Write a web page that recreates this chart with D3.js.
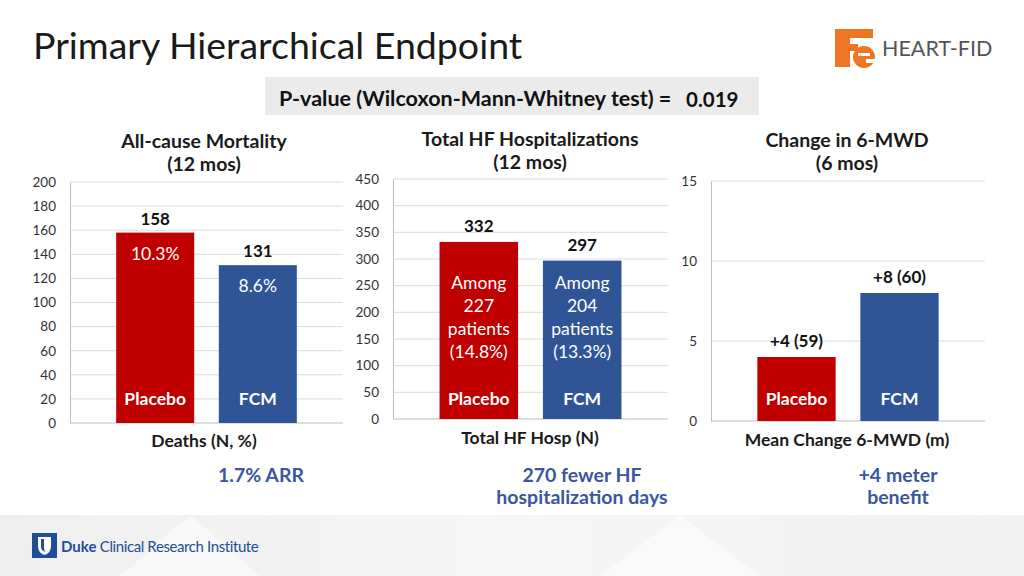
<!DOCTYPE html>
<html>
<head>
<meta charset="utf-8">
<script src="https://cdn.jsdelivr.net/npm/d3@7"></script>
<style>
  body { margin: 0; background: #fff; }
  svg { display: block; font-family: Lato, "Noto Sans", sans-serif; }
</style>
</head>
<body>
<div id="slide"></div>
<script>
// data
var groups = ["Placebo", "FCM"];
var deaths = [158, 131];
var deathPct = ["10.3%", "8.6%"];
var hosp = [332, 297];
var hospPatients = ["227", "204"];
var hospPct = ["(14.8%)", "(13.3%)"];
var mwd = [4, 8];
var mwdN = [59, 60];
var deathTicks = [0, 20, 40, 60, 80, 100, 120, 140, 160, 180, 200];
var hospTicks = [0, 50, 100, 150, 200, 250, 300, 350, 400, 450];
var mwdTicks = [0, 5, 10, 15];

var red = "#c00000", blue = "#2f5597", noteBlue = "#3a56a0";

var svg = d3.select("#slide").append("svg")
  .attr("width", 1024)
  .attr("height", 576);

// bottom band
var grad = svg.append("defs").append("linearGradient")
  .attr("id", "band").attr("x1", 0).attr("x2", 1).attr("y1", 0).attr("y2", 0);
grad.append("stop").attr("offset", "0%").attr("stop-color", "#efefef");
grad.append("stop").attr("offset", "50%").attr("stop-color", "#f6f6f6");
grad.append("stop").attr("offset", "100%").attr("stop-color", "#f1f1f1");
svg.append("rect").attr("x", 0).attr("y", 515).attr("width", 1024).attr("height", 61)
  .attr("fill", "url(#band)");
svg.append("path").attr("d", "M120,576 L190,515 L260,576 Z").attr("fill", "#f8f8f8");
svg.append("path").attr("d", "M600,576 L680,515 L760,576 Z").attr("fill", "#f9f9f9");

// title
svg.append("text")
  .attr("x", 33).attr("y", 59)
  .attr("font-size", 37.5)
  .attr("fill", "#1a1a1a")
  .text("Primary Hierarchical Endpoint");

// p-value box
svg.append("rect").attr("x", 265).attr("y", 77).attr("width", 494).attr("height", 38)
  .attr("fill", "#ebebeb");
svg.append("text").attr("x", 279).attr("y", 106)
  .attr("font-size", 21.5).attr("font-weight", "bold").attr("fill", "#111")
  .text("P-value (Wilcoxon-Mann-Whitney test) =");
svg.append("text").attr("x", 686).attr("y", 107)
  .attr("font-size", 20.5).attr("font-weight", "bold").attr("fill", "#111")
  .text("0.019");

// HEART-FID logo
var logo = svg.append("g");
logo.append("rect").attr("x", 835).attr("y", 29).attr("width", 38).attr("height", 9).attr("fill", "#ee7623");
logo.append("rect").attr("x", 835).attr("y", 29).attr("width", 15).attr("height", 38).attr("fill", "#ee7623");
logo.append("rect").attr("x", 850).attr("y", 44).attr("width", 8).attr("height", 7).attr("fill", "#ee7623");
logo.append("circle").attr("cx", 864).attr("cy", 57).attr("r", 11).attr("fill", "#ee7623");
logo.append("rect").attr("x", 858).attr("y", 53).attr("width", 12).attr("height", 3).attr("fill", "#fff");
logo.append("rect").attr("x", 866).attr("y", 59).attr("width", 10).attr("height", 4).attr("fill", "#fff");
logo.append("text").attr("x", 882).attr("y", 56)
  .attr("font-size", 21.5).attr("fill", "#555")
  .text("HEART-FID");

// Duke logo
var duke = svg.append("g");
duke.append("rect").attr("x", 32).attr("y", 533).attr("width", 25).attr("height", 25).attr("fill", "#1f4e96");
duke.append("path").attr("d", "M38,537 L51,537 L51,546 Q51,553 44.5,555 Q38,553 38,546 Z").attr("fill", "#fff");
duke.append("path").attr("d", "M41,539 L44,539 L44,548 Q44,551 46,552 Q41,551 41,547 Z").attr("fill", "#1f4e96");
var dukeText = duke.append("text").attr("x", 61).attr("y", 552).attr("font-size", 15).attr("fill", "#1f4e96");
dukeText.append("tspan").attr("font-weight", "bold").text("Duke");
dukeText.append("tspan").attr("letter-spacing", -0.4).text(" Clinical Research Institute");

// one bar panel
function panel(opt) {
  var y = d3.scaleLinear().domain(opt.domain).range([opt.bottom, opt.top]);
  var x = d3.scaleBand().domain(groups).range([opt.left, opt.right])
    .paddingInner(0.24).paddingOuter(0.45);

  var g = svg.append("g");

  g.selectAll(".grid").data(opt.ticks.slice(1)).enter().append("line")
    .attr("x1", opt.left).attr("x2", opt.right)
    .attr("y1", function(d) { return y(d); }).attr("y2", function(d) { return y(d); })
    .attr("stroke", "#dcdcdc").attr("stroke-width", 1);

  var axis = g.append("g")
    .attr("transform", "translate(" + opt.left + ",0)")
    .call(d3.axisLeft(y).tickValues(opt.ticks).tickSize(0).tickPadding(opt.pad));
  axis.select(".domain").attr("stroke", "#bfbfbf");
  axis.selectAll("text").attr("font-size", 13.5).attr("fill", "#333")
    .attr("font-family", "Lato, 'Noto Sans', sans-serif");

  g.append("line").attr("x1", opt.left).attr("x2", opt.right)
    .attr("y1", opt.bottom).attr("y2", opt.bottom)
    .attr("stroke", "#bfbfbf");

  g.selectAll(".bar").data(opt.values).enter().append("rect")
    .attr("x", function(d, i) { return x(groups[i]); })
    .attr("y", function(d) { return y(d); })
    .attr("width", x.bandwidth())
    .attr("height", function(d) { return opt.bottom - y(d); })
    .attr("fill", function(d, i) { return i == 0 ? red : blue; });

  g.selectAll(".val").data(opt.values).enter().append("text")
    .attr("x", function(d, i) { return x(groups[i]) + x.bandwidth() / 2; })
    .attr("y", function(d) { return y(d) - opt.valGap; })
    .attr("text-anchor", "middle")
    .attr("font-size", 17).attr("font-weight", "bold").attr("fill", "#111")
    .text(function(d, i) { return opt.valText(d, i); });

  g.selectAll(".grp").data(groups).enter().append("text")
    .attr("x", function(d) { return x(d) + x.bandwidth() / 2; })
    .attr("y", 405)
    .attr("text-anchor", "middle")
    .attr("font-size", 17.5).attr("font-weight", "bold").attr("fill", "#fff")
    .text(function(d) { return d; });

  // chart heading
  opt.title.forEach(function(t, i) {
    svg.append("text").attr("x", opt.cx).attr("y", opt.titleY + i * 23)
      .attr("text-anchor", "middle").attr("font-size", 19.5).attr("font-weight", "bold").attr("fill", "#1a1a1a")
      .text(t);
  });
  svg.append("text").attr("x", opt.cx).attr("y", opt.xTitleY)
    .attr("text-anchor", "middle").attr("font-size", 17.5).attr("font-weight", "bold").attr("fill", "#1a1a1a")
    .text(opt.xTitle);
  opt.note.forEach(function(t, i) {
    svg.append("text").attr("x", opt.noteX).attr("y", 482 + i * 22)
      .attr("text-anchor", "middle").attr("font-size", 19.5).attr("font-weight", "bold").attr("fill", noteBlue)
      .text(t);
  });

  return { g: g, x: x, y: y };
}

var p1 = panel({
  left: 70, right: 343, top: 182, bottom: 423, pad: 14,
  domain: [0, 200], ticks: deathTicks, values: deaths, valGap: 8,
  valText: function(d) { return d; },
  cx: 204, titleY: 148, title: ["All-cause Mortality", "(12 mos)"],
  xTitle: "Deaths (N, %)", xTitleY: 447, noteX: 261, note: ["1.7% ARR"]
});
p1.g.selectAll(".pct").data(deathPct).enter().append("text")
  .attr("x", function(d, i) { return p1.x(groups[i]) + p1.x.bandwidth() / 2; })
  .attr("y", function(d, i) { return p1.y(deaths[i]) + 27; })
  .attr("text-anchor", "middle").attr("font-size", 17.5).attr("fill", "#fff")
  .text(function(d) { return d; });

var p2 = panel({
  left: 393, right: 668, top: 179, bottom: 419, pad: 14,
  domain: [0, 450], ticks: hospTicks, values: hosp, valGap: 10,
  valText: function(d) { return d; },
  cx: 530, titleY: 146, title: ["Total HF Hospitalizations", "(12 mos)"],
  xTitle: "Total HF Hosp (N)", xTitleY: 444, noteX: 582, note: ["270 fewer HF", "hospitalization days"]
});
groups.forEach(function(gname, i) {
  var lines = ["Among", hospPatients[i], "patients", hospPct[i]];
  p2.g.selectAll(".among" + i).data(lines).enter().append("text")
    .attr("x", p2.x(gname) + p2.x.bandwidth() / 2)
    .attr("y", function(d, j) { return 289 + j * 23; })
    .attr("text-anchor", "middle").attr("font-size", 17.5).attr("fill", "#fff")
    .text(function(d) { return d; });
});

panel({
  left: 711, right: 985, top: 181, bottom: 421, pad: 14,
  domain: [0, 15], ticks: mwdTicks, values: mwd, valGap: 10,
  valText: function(d, i) { return "+" + d + " (" + mwdN[i] + ")"; },
  cx: 847, titleY: 147, title: ["Change in 6-MWD", "(6 mos)"],
  xTitle: "Mean Change 6-MWD (m)", xTitleY: 446, noteX: 898, note: ["+4 meter", "benefit"]
});
</script>
</body>
</html>
